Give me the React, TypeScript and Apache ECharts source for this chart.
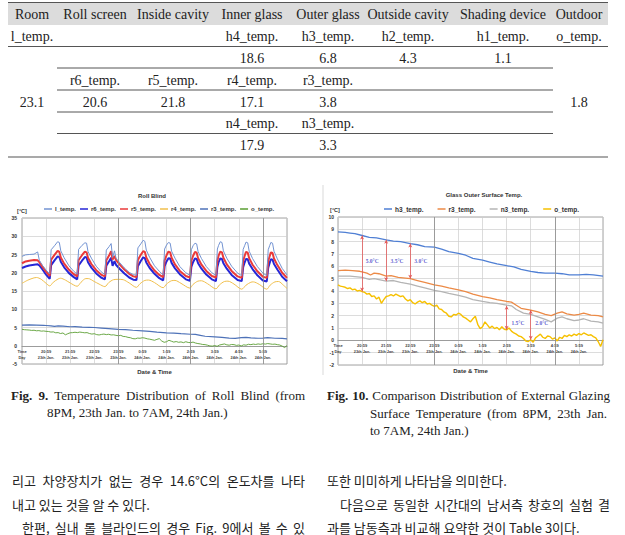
import React, { useEffect, useRef } from "react";
import * as echarts from "echarts";

const SANS = "'Liberation Sans', Arial, sans-serif";
const SERIF = "'Liberation Serif', 'Times New Roman', serif";
const KR = "'Noto Sans CJK KR', sans-serif";

// ---------- Table ----------
const tableHeaders = ["Room", "Roll screen", "Inside cavity", "Inner glass", "Outer glass", "Outside cavity", "Shading device", "Outdoor"];
const rowHNames = ["l_temp.", "", "", "h4_temp.", "h3_temp.", "h2_temp.", "h1_temp.", "o_temp."];
const rowHValues = ["", "", "", "18.6", "6.8", "4.3", "1.1", ""];
const rowRNames = ["", "r6_temp.", "r5_temp.", "r4_temp.", "r3_temp.", "", "", ""];
const rowRValues = ["23.1", "20.6", "21.8", "17.1", "3.8", "", "", "1.8"];
const rowNNames = ["", "", "", "n4_temp.", "n3_temp.", "", "", ""];
const rowNValues = ["", "", "", "17.9", "3.3", "", "", ""];

// ---------- Axis labels ----------
const timeLabels = ["Time", "20:59", "21:59", "22:59", "23:59", "0:59", "1:59", "2:59", "3:59", "4:59", "5:59"];
const dayLabels = ["Day", "23th Jan.", "23th Jan.", "23th Jan.", "23th Jan.", "24th Jan.", "24th Jan.", "24th Jan.", "24th Jan.", "24th Jan.", "24th Jan."];

// ---------- Fig. 9 (Roll Blind) ----------
const bundleHours = [
  0, 0.15, 0.3, 0.5, 0.65, 0.72, 0.85, 1.0,
  1.15, 1.21, 1.35, 1.48, 1.55, 1.61, 1.75, 1.95, 2.15,
  2.29, 2.35, 2.49, 2.61, 2.68, 2.74, 2.88, 3.08, 3.28,
  3.44, 3.5, 3.62, 3.7, 3.76, 3.84, 3.9, 4.05, 4.25, 4.45, 4.62,
  4.75, 4.81, 4.93, 5.03, 5.1, 5.16, 5.3, 5.5, 5.7,
  5.86, 5.92, 6.0, 6.08, 6.15, 6.21, 6.35, 6.55, 6.8,
  6.97, 7.03, 7.1, 7.18, 7.25, 7.31, 7.45, 7.65, 7.88,
  8.05, 8.11, 8.16, 8.23, 8.3, 8.36, 8.5, 8.7, 8.95,
  9.12, 9.18, 9.24, 9.3, 9.37, 9.43, 9.57, 9.77, 10.0,
  10.16, 10.22, 10.28, 10.33, 10.4, 10.46, 10.6, 10.8, 11.0,
];
const lTemp = [
  24.5, 24.9, 25.0, 25.1, 25.7, 23.4, 22.0, 20.7,
  19.7, 26.3, 27.4, 28.5, 28.3, 26.0, 24.1, 21.9, 20.4,
  19.6, 26.4, 27.5, 28.2, 28.1, 25.8, 24.0, 21.8, 20.3,
  19.5, 26.2, 27.2, 28.0, 24.2, 26.0, 24.0, 22.8, 21.3, 20.1, 19.5,
  19.3, 26.8, 27.9, 28.9, 28.6, 26.2, 24.2, 21.9, 20.4,
  19.4, 26.5, 27.6, 28.3, 28.1, 25.9, 24.0, 21.7, 20.0,
  19.3, 26.3, 27.4, 28.1, 27.9, 25.8, 23.9, 21.7, 20.0,
  19.3, 26.5, 27.5, 28.5, 28.3, 26.0, 24.0, 21.8, 19.9,
  19.2, 26.4, 27.4, 28.4, 28.2, 25.9, 23.9, 21.7, 19.9,
  19.2, 26.3, 27.4, 28.3, 28.1, 25.9, 23.8, 21.2, 19.4,
];
const r5Temp = [
  22.6, 23.1, 23.3, 23.5, 23.4, 22.9, 21.6, 20.3,
  19.1, 23.6, 24.9, 26.0, 25.7, 24.2, 22.5, 20.8, 19.6,
  19.0, 23.5, 24.8, 25.8, 25.6, 24.1, 22.4, 20.7, 19.5,
  19.0, 23.4, 24.8, 25.9, 23.6, 24.6, 23.5, 22.3, 20.9, 19.7, 19.0,
  18.8, 23.5, 24.9, 25.9, 25.7, 24.2, 22.4, 20.6, 19.4,
  18.8, 23.4, 24.8, 25.8, 25.6, 24.1, 22.3, 20.5, 19.1,
  18.7, 23.3, 24.6, 25.7, 25.5, 24.0, 22.2, 20.5, 19.1,
  18.7, 23.3, 24.7, 25.8, 25.6, 24.1, 22.3, 20.5, 19.0,
  18.6, 23.2, 24.6, 25.7, 25.5, 24.0, 22.2, 20.4, 18.9,
  18.6, 23.2, 24.5, 25.6, 25.4, 23.9, 22.1, 20.0, 18.6,
];
const r6Temp = [
  21.3, 21.7, 22.0, 22.2, 22.3, 22.0, 20.9, 19.5,
  18.3, 22.1, 23.4, 24.5, 24.3, 23.0, 21.5, 19.9, 18.8,
  18.2, 22.0, 23.3, 24.3, 24.2, 22.9, 21.4, 19.8, 18.7,
  18.2, 21.9, 23.2, 24.1, 21.9, 23.2, 22.2, 21.1, 19.8, 18.7, 18.1,
  18.0, 21.8, 23.2, 24.2, 24.0, 22.8, 21.3, 19.7, 18.5,
  17.9, 21.8, 23.1, 24.0, 23.9, 22.7, 21.2, 19.6, 18.2,
  17.8, 21.6, 22.9, 23.9, 23.8, 22.6, 21.1, 19.5, 18.2,
  17.7, 21.6, 22.9, 23.9, 23.8, 22.6, 21.1, 19.4, 18.0,
  17.7, 21.5, 22.8, 23.8, 23.7, 22.5, 21.0, 19.3, 17.9,
  17.6, 21.4, 22.7, 23.7, 23.6, 22.4, 20.9, 18.9, 17.7,
];
const r4Hours = [
  0, 0.25, 0.5, 0.6, 0.8, 1.0, 1.15, 1.3, 1.5, 1.6, 1.8, 2.0, 2.29, 2.45, 2.65, 2.75, 3.0, 3.2,
  3.44, 3.6, 3.8, 4.0, 4.2, 4.45, 4.75, 4.9, 5.1, 5.25, 5.5, 5.86, 6.0, 6.2, 6.35, 6.6,
  6.97, 7.1, 7.3, 7.45, 7.7, 8.05, 8.2, 8.4, 8.55, 8.8, 9.12, 9.3, 9.5, 9.6, 9.85,
  10.16, 10.3, 10.5, 10.65, 10.85, 11.0,
];
const r4Temp = [
  17.1, 18.0, 18.6, 18.7, 18.2, 17.1, 16.4, 17.4, 18.3, 18.5, 18.0, 17.2, 16.3, 17.4, 18.4, 18.4, 17.6, 16.9,
  16.2, 17.3, 18.1, 18.2, 18.1, 17.2, 16.0, 17.0, 17.9, 18.0, 17.3, 15.9, 16.9, 17.8, 17.9, 17.1,
  15.8, 16.8, 17.7, 17.8, 17.0, 15.6, 16.7, 17.6, 17.7, 16.9, 15.5, 16.6, 17.4, 17.5, 16.8,
  15.5, 16.6, 17.5, 17.6, 16.6, 15.7,
];

// ---------- shared outer-glass & outdoor data ----------
const r3Hours = [0, 0.3, 0.6, 0.9, 1.0, 1.2, 1.35, 1.5, 1.7, 2.0, 2.2, 2.5, 2.8, 3.0, 3.3, 3.6, 4.0, 4.3, 4.6, 5.0, 5.3, 5.6, 6.0, 6.3, 6.6, 7.0, 7.2, 7.4, 7.6, 8.0, 8.3, 8.6, 8.85, 9.1, 9.3, 9.5, 9.8, 10.0, 10.2, 10.5, 10.8, 11.0];
const r3Temp = [5.65, 5.7, 5.65, 5.6, 5.55, 5.45, 5.3, 5.45, 5.4, 5.2, 5.25, 5.1, 5.05, 5.0, 4.85, 4.7, 4.5, 4.4, 4.25, 4.1, 3.95, 3.75, 3.55, 3.45, 3.3, 3.15, 3.1, 2.85, 2.6, 2.45, 2.3, 2.1, 2.0, 2.2, 2.3, 2.15, 2.05, 2.1, 2.2, 2.05, 2.0, 1.9];
const oHours = [
  0, 0.1, 0.2, 0.3, 0.4, 0.5, 0.6, 0.7, 0.8, 0.9, 1.0, 1.1, 1.2, 1.3, 1.4, 1.5, 1.6, 1.7, 1.8, 1.9,
  2.0, 2.1, 2.2, 2.3, 2.4, 2.5, 2.6, 2.7, 2.8, 2.9, 3.0, 3.1, 3.2, 3.3, 3.4, 3.5, 3.6, 3.7, 3.8, 3.9,
  4.0, 4.1, 4.2, 4.3, 4.4, 4.5, 4.6, 4.7, 4.8, 4.9, 5.0, 5.1, 5.2, 5.3, 5.4, 5.5, 5.6, 5.7, 5.8, 5.9,
  6.0, 6.1, 6.2, 6.3, 6.4, 6.5, 6.6, 6.7, 6.8, 6.9, 7.0, 7.1, 7.2, 7.3, 7.4, 7.5, 7.6, 7.7, 7.8, 7.9,
  8.0, 8.1, 8.2, 8.3, 8.4, 8.5, 8.6, 8.7, 8.8, 8.9, 9.0, 9.1, 9.2, 9.3, 9.4, 9.5, 9.6, 9.7, 9.8, 9.9,
  10.0, 10.1, 10.2, 10.3, 10.4, 10.5, 10.6, 10.7, 10.8, 10.9, 11.0,
];
const oTemp = [
  4.5, 4.4, 4.35, 4.3, 4.2, 4.25, 4.1, 4.15, 4.0, 4.05, 3.95, 3.9, 3.75, 3.8, 3.55, 3.6, 3.35, 3.5, 3.0, 3.3,
  3.55, 3.6, 3.7, 3.6, 3.75, 3.65, 3.55, 3.6, 3.35, 3.2, 3.3, 3.05, 2.95, 3.1, 3.2, 3.05, 3.15, 2.95, 3.0, 2.85,
  2.75, 2.85, 2.55, 2.5, 2.3, 2.2, 1.95, 1.9, 2.1, 2.05, 2.2, 2.1, 1.9, 1.8, 1.65, 1.5, 1.75, 1.95, 1.3, 0.95,
  1.1, 1.5, 1.25, 1.0, 1.15, 0.95, 1.05, 0.85, 1.1, 0.9, 0.85, 1.0, 0.75, 0.6, 0.5, 0.35, 0.3, 0.15, -0.05, -0.1,
  0.05, -0.15, 0.2, 0.35, 0.5, 0.25, 0.15, 0.35, 0.3, 0.1, 0.2, -0.05, 0.25, 0.15, 0.4, 0.3, 0.45, 0.35, 0.5, 0.4,
  0.55, 0.45, 0.6, 0.5, 0.4, 0.45, 0.3, 0.2, -0.1, -0.5, 0.05,
];

// ---------- Fig. 10 (Glass Outer Surface Temp.) ----------
const h3Hours = [0, 0.3, 0.5, 0.7, 1.0, 1.3, 1.6, 2.0, 2.3, 2.6, 3.0, 3.3, 3.6, 4.0, 4.3, 4.6, 5.0, 5.3, 5.6, 6.0, 6.3, 6.6, 7.0, 7.3, 7.6, 8.0, 8.3, 8.6, 9.0, 9.3, 9.6, 10.0, 10.3, 10.6, 11.0];
const h3Temp = [8.8, 8.75, 8.7, 8.65, 8.5, 8.35, 8.3, 8.15, 8.05, 8.0, 7.85, 7.75, 7.6, 7.55, 7.4, 7.2, 7.05, 6.9, 6.65, 6.5, 6.35, 6.2, 6.05, 5.95, 5.75, 5.6, 5.5, 5.45, 5.45, 5.4, 5.3, 5.3, 5.35, 5.3, 5.2];
const n3Hours = [0, 0.5, 1.0, 1.3, 1.5, 2.0, 2.3, 2.6, 3.0, 3.3, 3.6, 4.0, 4.3, 4.6, 5.0, 5.3, 5.6, 6.0, 6.3, 6.6, 7.0, 7.2, 7.4, 7.7, 8.0, 8.3, 8.6, 8.85, 9.1, 9.3, 9.5, 9.8, 10.0, 10.2, 10.5, 10.8, 11.0];
const n3Temp = [5.2, 5.2, 5.1, 4.95, 5.0, 4.8, 4.85, 4.7, 4.55, 4.4, 4.25, 4.05, 3.95, 3.8, 3.65, 3.5, 3.3, 3.15, 3.05, 3.0, 2.85, 2.8, 2.5, 2.2, 2.1, 1.9, 1.7, 1.5, 1.8, 1.9, 1.75, 1.6, 1.65, 1.75, 1.55, 1.5, 1.4];

// temperature-difference arrows
const arrowHours = [1, 2, 3, 7, 8];
const arrowTop = [8.5, 8.15, 7.85, 2.8, 2.45];
const arrowBottom = [3.95, 4.8, 5.0, 0.85, 0.05];
const arrowLabels = ["5.0°C", "3.5°C", "3.0°C", "1.5°C", "2.0°C"];
const arrowLabelHours = [1.42, 2.45, 3.44, 7.47, 8.46];
const arrowLabelValues = [6.4, 6.4, 6.4, 1.4, 1.4];

// darker vertical grid lines visible in the figures
const leftDarkHours = [4, 7, 10];
const rightDarkHours = [4, 9];

// ---------- captions & body text ----------
const captionLeft = ["Fig. 9. Temperature Distribution of Roll Blind (from", "8PM, 23th Jan. to 7AM, 24th Jan.)"];
const captionRight = ["Fig. 10. Comparison Distribution of External Glazing", "Surface Temperature (from 8PM, 23th Jan.", "to 7AM, 24th Jan.)"];
const bodyLeft = ["리고 차양장치가 없는 경우 14.6°C의 온도차를 나타", "내고 있는 것을 알 수 있다.", "한편, 실내 롤 블라인드의 경우 Fig. 9에서 볼 수 있"];
const bodyRight = ["또한 미미하게 나타남을 의미한다.", "다음으로 동일한 시간대의 남서측 창호의 실험 결", "과를 남동측과 비교해 요약한 것이 Table 3이다."];

const pairs = (h: number[], v: number[]) => h.map((x, i) => [x, v[i]]);

function buildGraphic() {
  const g: any[] = [];
  const ctx = document.createElement("canvas").getContext("2d")!;
  const measure = (t: string, font: string) => {
    ctx.font = font;
    return ctx.measureText(t).width;
  };
  const line = (x1: number, y1: number, x2: number, y2: number, w = 1, c = "#555") =>
    g.push({ type: "line", silent: true, shape: { x1, y1, x2, y2 }, style: { stroke: c, lineWidth: w } });
  const text = (x: number, y: number, t: string, o: any = {}) =>
    g.push({
      type: "text", silent: true, x, y,
      style: { text: t, fill: "#222", fontFamily: SERIF, fontSize: 14, align: "center", verticalAlign: "middle", ...o },
    });
  // justified line: words spread between x0 and x1; first `boldCount` words bold
  const justify = (s: string, x0: number, x1: number | null, y: number, size: number, family: string, boldCount = 0) => {
    const words = s.split(" ");
    const fonts = words.map((_, i) => `${i < boldCount ? "bold " : ""}${size}px ${family}`);
    const widths = words.map((w, i) => measure(w, fonts[i]));
    const total = widths.reduce((a, b) => a + b, 0);
    const natural = measure(" ", `${size}px ${family}`);
    const gap = x1 === null || words.length < 2 ? natural : (x1 - x0 - total) / (words.length - 1);
    let x = x0;
    words.forEach((w, i) => {
      text(x, y, w, { align: "left", fontFamily: family, fontSize: size, fontWeight: i < boldCount ? "bold" : "normal" });
      x += widths[i] + gap;
    });
  };

  // table
  const colX = [32, 95, 173, 252, 328, 408, 503, 579];
  g.push({ type: "rect", silent: true, shape: { x: 8, y: 3, width: 600, height: 22 }, style: { fill: "#dcdcdc" } });
  line(8, 2.5, 608, 2.5, 1.2);
  line(8, 46.5, 608, 46.5, 1);
  [68, 90, 112, 133.5].forEach((y) => line(57, y, 553, y, 1));
  line(8, 157, 608, 157, 1.2);
  const rows: [string[], number][] = [
    [tableHeaders, 14], [rowHNames, 36.5], [rowHValues, 58], [rowRNames, 80],
    [rowRValues, 102], [rowNNames, 123.5], [rowNValues, 145.5],
  ];
  rows.forEach(([cells, y]) => cells.forEach((c, i) => { if (c) text(colX[i], y, c); }));

  // chart titles
  text(152, 196, "Roll Blind", { fontFamily: SANS, fontSize: 6, fontWeight: "bold", fill: "#333" });
  text(484, 195, "Glass Outer Surface Temp.", { fontFamily: SANS, fontSize: 6, fontWeight: "bold", fill: "#333" });
  line(323, 185, 323, 375, 0.8, "#cfcfcf");

  // captions
  justify(captionLeft[0], 11, 305, 395, 13, SERIF, 2);
  text(47, 412, captionLeft[1], { align: "left", fontSize: 13 });
  justify(captionRight[0], 327, 610, 395, 13, SERIF, 2);
  justify(captionRight[1], 370, 607, 413, 13, SERIF, 0);
  text(370, 430, captionRight[2], { align: "left", fontSize: 13 });

  // Korean body text
  const kr = { align: "left", fontFamily: KR, fontSize: 13, fill: "#222" };
  justify(bodyLeft[0], 12, 305, 480, 13, KR, 0);
  text(12, 504, bodyLeft[1], kr);
  justify(bodyLeft[2], 22, 305, 527, 13, KR, 0);
  text(327, 480, bodyRight[0], kr);
  justify(bodyRight[1], 340, 610, 504, 13, KR, 0);
  text(327, 527, bodyRight[2], kr);
  return g;
}

function buildOption(): any {
  const labelFmt = (v: number) => {
    const i = Math.round(v);
    if (i < 0 || i >= timeLabels.length) return "";
    return `{t|${timeLabels[i]}}\n{d|${dayLabels[i]}}`;
  };
  // axis line drawn at the value-0 level of the y axis (offset from the grid bottom)
  const xAxis = (gridIndex: number, lh: number, nameGap: number, offset: number) => ({
    type: "value", gridIndex, min: 0, max: 11, interval: 1, offset,
    axisLine: { onZero: false, lineStyle: { color: "#8c8c8c", width: 0.8 } },
    axisTick: { show: false },
    splitLine: { show: true, lineStyle: { color: "#cdcdcd", width: 0.7 } },
    axisLabel: {
      margin: 2, showMinLabel: true, showMaxLabel: false, formatter: labelFmt,
      rich: {
        t: { fontSize: 4, fontWeight: "bold", color: "#444", fontFamily: SANS, lineHeight: lh },
        d: { fontSize: 3.8, fontWeight: "bold", color: "#444", fontFamily: SANS, lineHeight: lh },
      },
    },
    name: "Date & Time", nameLocation: "middle", nameGap,
    nameTextStyle: { fontSize: 6, fontWeight: "bold", color: "#333", fontFamily: SANS },
  });
  const yAxis = (gridIndex: number, min: number, max: number, interval: number, margin: number) => ({
    type: "value", gridIndex, min, max, interval,
    axisLine: { show: false }, axisTick: { show: false },
    splitLine: { show: true, lineStyle: { color: "#cdcdcd", width: 0.7 } },
    axisLabel: { fontSize: 5, fontWeight: "bold", color: "#333", fontFamily: SANS, margin },
    name: "[°C]", nameLocation: "end", nameGap: 4,
    nameTextStyle: { fontSize: 5.5, fontWeight: "bold", color: "#333", fontFamily: SANS, padding: gridIndex === 1 ? [0, 6, 0, 0] : 0 },
  });
  const lineSeries = (name: string, xi: number, data: number[][], color: string, width: number, extra: any = {}) => ({
    type: "line", name, xAxisIndex: xi, yAxisIndex: xi, data, showSymbol: false, symbol: "none",
    color, lineStyle: { color, width }, silent: true, ...extra,
  });
  const darkLines = (hours: number[]) => ({
    silent: true, symbol: ["none", "none"], label: { show: false },
    lineStyle: { color: "#8a8a8a", width: 0.8, type: "solid" },
    data: hours.map((h) => ({ xAxis: h })),
  });
  const legendBase = {
    icon: "rect", itemWidth: 8, itemHeight: 1.5, padding: 0, selectedMode: false,
  };

  return {
    animation: false,
    backgroundColor: "#fff",
    graphic: buildGraphic(),
    grid: [
      { left: 22, top: 218, width: 265, height: 146, show: true, borderColor: "#8c8c8c", borderWidth: 0.8, backgroundColor: "#fff" },
      { left: 338, top: 217, width: 265, height: 148, show: true, borderColor: "#8c8c8c", borderWidth: 0.8, backgroundColor: "#fff" },
    ],
    xAxis: [xAxis(0, 7, 23, -18.25), xAxis(1, 6.5, 27.5, -24.7)],
    yAxis: [yAxis(0, -5, 35, 5, 5), yAxis(1, -2, 10, 1, 4)],
    legend: [
      {
        ...legendBase, left: 44, top: 206, itemGap: 4,
        data: ["l_temp.", "r6_temp.", "r5_temp.", "r4_temp.", "r3_temp.", "o_temp."],
        textStyle: { fontSize: 6, fontWeight: "bold", color: "#333", fontFamily: SANS, padding: [0, 0, 0, -2] },
      },
      {
        ...legendBase, left: 384, top: 205.5, itemGap: 14,
        data: ["h3_temp.", "r3_temp. ", "n3_temp.", "o_temp. "],
        formatter: (n: string) => n.trim(),
        textStyle: { fontSize: 6.5, fontWeight: "bold", color: "#333", fontFamily: SANS, padding: [0, 0, 0, -2] },
      },
    ],
    series: [
      // Fig. 9
      lineSeries("r3_temp.", 0, pairs(r3Hours, r3Temp), "#4e72b8", 1.2, { markLine: darkLines(leftDarkHours) }),
      lineSeries("o_temp.", 0, pairs(oHours, oTemp), "#5a9e32", 0.9),
      lineSeries("r4_temp.", 0, pairs(r4Hours, r4Temp), "#f0bf4c", 1, { smooth: 0.3 }),
      lineSeries("r6_temp.", 0, pairs(bundleHours, r6Temp), "#2626d6", 2),
      lineSeries("r5_temp.", 0, pairs(bundleHours, r5Temp), "#ea3a3a", 2),
      lineSeries("l_temp.", 0, pairs(bundleHours, lTemp), "#7393d2", 1),
      // Fig. 10
      lineSeries("n3_temp.", 1, pairs(n3Hours, n3Temp), "#b4b4b4", 1.3, { markLine: darkLines(rightDarkHours) }),
      lineSeries("o_temp. ", 1, pairs(oHours, oTemp), "#f6c000", 1.4),
      lineSeries("r3_temp. ", 1, pairs(r3Hours, r3Temp), "#ec8a46", 1.3),
      lineSeries("h3_temp.", 1, pairs(h3Hours, h3Temp), "#4f7fd4", 1.3, {
        markLine: {
          silent: true, symbol: ["arrow", "arrow"], symbolSize: [3, 4], label: { show: false },
          lineStyle: { color: "#e25a5a", width: 0.8, type: "solid" },
          data: arrowHours.map((h, i) => [{ coord: [h, arrowTop[i]] }, { coord: [h, arrowBottom[i]] }]),
        },
      }),
      {
        type: "scatter", name: "diff", xAxisIndex: 1, yAxisIndex: 1, silent: true, symbolSize: 0,
        data: pairs(arrowLabelHours, arrowLabelValues),
        label: {
          show: true, position: "inside", formatter: (p: any) => arrowLabels[p.dataIndex],
          fontSize: 5.5, fontWeight: "bold", color: "#3535c4", fontFamily: SERIF,
        },
      },
    ],
  };
}

export default function App() {
  const ref = useRef<HTMLDivElement>(null);
  useEffect(() => {
    const chart = echarts.init(ref.current!, null, { renderer: "svg", width: 625, height: 535 });
    chart.setOption(buildOption());
    return () => chart.dispose();
  }, []);
  return (
    <div
      ref={ref}
      style={{ position: "fixed", left: 0, top: 0, width: 625, height: 535, background: "#fff" }}
    />
  );
}
